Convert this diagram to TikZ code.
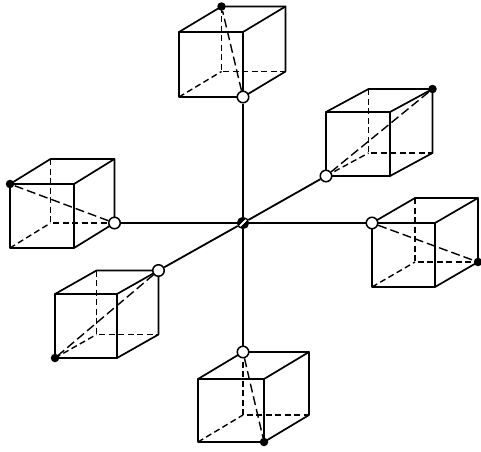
\documentclass[tikz,border=0pt]{standalone}
\usepackage{tikz}

% corners of a box: f = front face, b = back face
\newcommand{\boxat}[7]{
	 \coordinate (#1ftl) at (#2,#3);
	 \coordinate (#1ftr) at (#2+#4,#3);
	 \coordinate (#1fbr) at (#2+#4,#3+#5);
	 \coordinate (#1fbl) at (#2,#3+#5);
	 \coordinate (#1btl) at (#2+#6,#3+#7);
	 \coordinate (#1btr) at (#2+#4+#6,#3+#7);
	 \coordinate (#1bbr) at (#2+#4+#6,#3+#5+#7);
	 \coordinate (#1bbl) at (#2+#6,#3+#5+#7);
	 \draw[edge] (#1ftl) -- (#1ftr) -- (#1fbr) -- (#1fbl) -- cycle;
	 \draw[edge] (#1ftl) -- (#1btl) -- (#1btr) -- (#1bbr) -- (#1fbr);
	 \draw[edge] (#1ftr) -- (#1btr);
	 \draw[hidden edge] (#1fbl) -- (#1bbl);
	 \draw[hidden edge] (#1btl) -- (#1bbl) -- (#1bbr);
}

\begin{document}
\begin{tikzpicture}[x=1pt,y=-1pt]
	 \tikzstyle{edge} = [draw,line width=1.7pt,-,black,line join=round,line cap=round]
	 \tikzstyle{axis} = [draw,line width=1.8pt,-,black]
	 \tikzstyle{hidden edge} = [draw,line width=1.4pt,-,black,dash pattern=on 6pt off 3.5pt]
	 \tikzstyle{diagonal} = [draw,line width=1.4pt,-,black,dash pattern=on 9pt off 4pt]
	 \tikzstyle{open vertex} = [circle,draw,line width=1.5pt,fill=white,minimum size=11.5pt,inner sep=0pt]
	 \tikzstyle{solid vertex} = [circle,fill=black,minimum size=8.5pt,inner sep=0pt]
	 \tikzstyle{center vertex} = [circle,draw,line width=1.3pt,fill=black,minimum size=11pt,inner sep=0pt,
		path picture={
			\draw[white,line width=1.7pt] ([xshift=-1.8pt,yshift=-1.8pt]path picture bounding box.south west) -- ([xshift=-1.8pt,yshift=-1.8pt]path picture bounding box.north east);
			\draw[white,line width=1.7pt] ([xshift=1.8pt,yshift=1.8pt]path picture bounding box.south west) -- ([xshift=1.8pt,yshift=1.8pt]path picture bounding box.north east);
		}]

	 \useasboundingbox (0,0) rectangle (481,451);

	 \boxat{t}{179}{32}{64}{65}{42.5}{-25.5}
	 \boxat{u}{326}{112}{64}{64}{42.5}{-23}
	 \boxat{l}{10}{184}{64}{64}{40.5}{-25}
	 \boxat{d}{55}{294}{62}{64}{41.5}{-23.5}
	 \boxat{r}{372}{223}{63}{64}{43}{-25}
	 \boxat{b}{198}{379}{66}{63}{45}{-27}

	 \node[open vertex] (topin) at (tfbr) {};
	 \node[open vertex] (upin) at (ufbl) {};
	 \node[open vertex] (leftin) at (lbbr) {};
	 \node[open vertex] (downin) at (dbtr) {};
	 \node[open vertex] (rightin) at (rftl) {};
	 \node[open vertex] (botin) at (bbtl) {};

	 \node[solid vertex] (topout) at (tbtl) {};
	 \node[solid vertex] (upout) at (ubtr) {};
	 \node[solid vertex] (leftout) at (lftl) {};
	 \node[solid vertex] (downout) at (dfbl) {};
	 \node[solid vertex] (rightout) at (rbbr) {};
	 \node[solid vertex] (botout) at (bfbr) {};

	 \node[center vertex] (mid) at (243,223) {};

	 \draw[axis] (topin) -- (mid) -- (botin);
	 \draw[axis] (leftin) -- (mid) -- (rightin);
	 \draw[axis] (downin) -- (mid) -- (upin);

	 \draw[diagonal] (topin) -- (topout);
	 \draw[diagonal] (upin) -- (upout);
	 \draw[diagonal] (leftin) -- (leftout);
	 \draw[diagonal] (downin) -- (downout);
	 \draw[diagonal] (rightin) -- (rightout);
	 \draw[diagonal] (botin) -- (botout);
 \end{tikzpicture}
\end{document}
